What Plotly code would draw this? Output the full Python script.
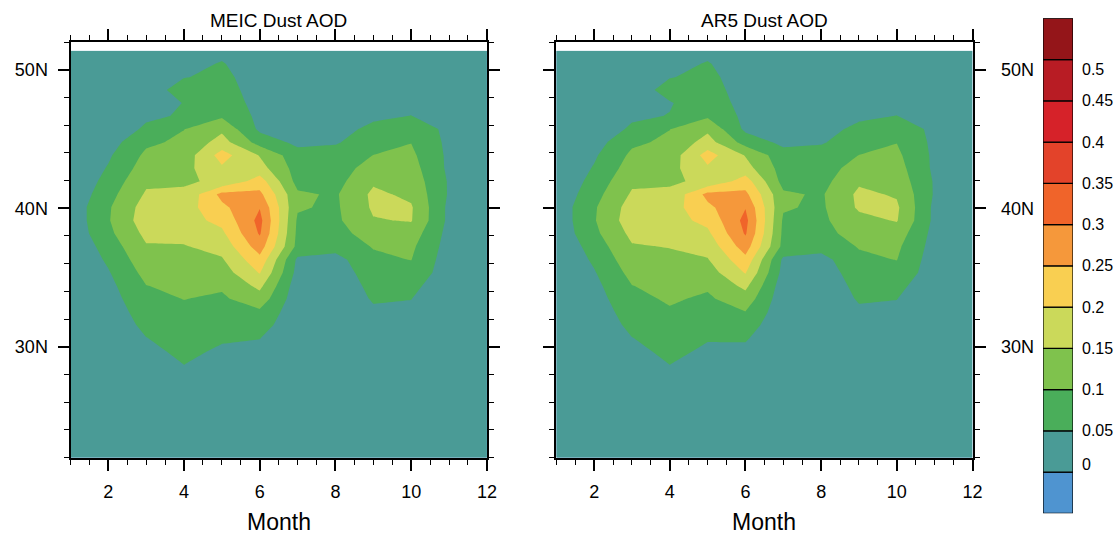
import plotly.graph_objects as go

# Grid: calendar month x latitude (deg N)
months = list(range(1, 13))
lats = [21.20, 24.97, 27.80, 28.74, 29.69, 30.63, 31.57, 32.51, 33.46, 34.40,
        35.34, 36.28, 37.23, 38.17, 39.11, 40.05, 41.00, 41.94, 42.88, 43.82,
        44.76, 45.71, 46.65, 47.59, 48.53, 49.48, 50.42, 51.36]

# MEIC dust AOD, one row per latitude, months Jan..Dec
meic_aod = [
    [0.003, 0.003, 0.006, 0.008, 0.008, 0.008, 0.005, 0.005, 0.006, 0.005, 0.004, 0.004],
    [0.003, 0.004, 0.010, 0.015, 0.012, 0.012, 0.006, 0.006, 0.008, 0.007, 0.005, 0.004],
    [0.003, 0.006, 0.020, 0.040, 0.025, 0.022, 0.007, 0.007, 0.012, 0.010, 0.006, 0.004],
    [0.003, 0.008, 0.028, 0.0505, 0.033, 0.030, 0.008, 0.008, 0.015, 0.013, 0.007, 0.004],
    [0.003, 0.010, 0.038, 0.061, 0.0434, 0.040, 0.009, 0.009, 0.020, 0.017, 0.008, 0.004],
    [0.003, 0.012, 0.049, 0.071, 0.0556, 0.0512, 0.010, 0.010, 0.025, 0.022, 0.008, 0.004],
    [0.003, 0.016, 0.062, 0.081, 0.068, 0.0717, 0.012, 0.011, 0.032, 0.030, 0.009, 0.004],
    [0.003, 0.021, 0.074, 0.091, 0.080, 0.0913, 0.016, 0.012, 0.042, 0.040, 0.010, 0.004],
    [0.003, 0.028, 0.087, 0.101, 0.0925, 0.129, 0.018, 0.012, 0.055, 0.051, 0.010, 0.004],
    [0.003, 0.036, 0.099, 0.112, 0.107, 0.162, 0.022, 0.012, 0.066, 0.066, 0.011, 0.004],
    [0.003, 0.046, 0.115, 0.123, 0.126, 0.203, 0.033, 0.020, 0.078, 0.083, 0.024, 0.004],
    [0.003, 0.058, 0.131, 0.134, 0.145, 0.235, 0.040, 0.032, 0.090, 0.101, 0.023, 0.004],
    [0.005, 0.072, 0.146, 0.147, 0.167, 0.275, 0.085, 0.068, 0.103, 0.110, 0.029, 0.004],
    [0.0135, 0.088, 0.162, 0.165, 0.190, 0.305, 0.089, 0.080, 0.125, 0.127, 0.033, 0.004],
    [0.0155, 0.096, 0.178, 0.181, 0.213, 0.315, 0.093, 0.090, 0.147, 0.153, 0.038, 0.004],
    [0.017, 0.094, 0.172, 0.178, 0.238, 0.298, 0.105, 0.092, 0.157, 0.155, 0.038, 0.004],
    [0.009, 0.082, 0.156, 0.157, 0.265, 0.2625, 0.108, 0.094, 0.160, 0.140, 0.045, 0.004],
    [0.003, 0.068, 0.141, 0.145, 0.157, 0.2235, 0.083, 0.083, 0.143, 0.130, 0.045, 0.004],
    [0.003, 0.054, 0.124, 0.134, 0.193, 0.170, 0.079, 0.075, 0.122, 0.120, 0.040, 0.004],
    [0.003, 0.043, 0.110, 0.122, 0.220, 0.147, 0.069, 0.075, 0.1005, 0.110, 0.040, 0.004],
    [0.003, 0.028, 0.0905, 0.110, 0.170, 0.080, 0.038, 0.044, 0.083, 0.099, 0.038, 0.004],
    [0.003, 0.020, 0.057, 0.099, 0.140, 0.040, 0.022, 0.030, 0.063, 0.075, 0.040, 0.004],
    [0.003, 0.016, 0.043, 0.054, 0.0935, 0.038, 0.018, 0.020, 0.040, 0.051, 0.020, 0.004],
    [0.003, 0.013, 0.034, 0.051, 0.075, 0.035, 0.016, 0.015, 0.030, 0.035, 0.015, 0.004],
    [0.003, 0.010, 0.026, 0.070, 0.066, 0.033, 0.015, 0.014, 0.022, 0.025, 0.012, 0.004],
    [0.003, 0.008, 0.018, 0.048, 0.060, 0.030, 0.014, 0.013, 0.017, 0.018, 0.010, 0.004],
    [0.003, 0.006, 0.012, 0.037, 0.053, 0.025, 0.013, 0.012, 0.013, 0.014, 0.008, 0.004],
    [0.003, 0.005, 0.008, 0.025, 0.040, 0.020, 0.012, 0.010, 0.010, 0.010, 0.007, 0.004],
]

# AR5 dust AOD, same layout
ar5_aod = [
    [0.003, 0.003, 0.006, 0.008, 0.008, 0.008, 0.005, 0.005, 0.006, 0.005, 0.004, 0.004],
    [0.003, 0.004, 0.010, 0.015, 0.012, 0.012, 0.006, 0.006, 0.008, 0.007, 0.005, 0.004],
    [0.003, 0.006, 0.020, 0.040, 0.025, 0.022, 0.007, 0.007, 0.012, 0.010, 0.006, 0.004],
    [0.003, 0.008, 0.028, 0.0505, 0.033, 0.030, 0.008, 0.008, 0.015, 0.013, 0.007, 0.004],
    [0.003, 0.010, 0.038, 0.061, 0.043, 0.040, 0.009, 0.009, 0.020, 0.017, 0.008, 0.004],
    [0.003, 0.012, 0.049, 0.071, 0.053, 0.055, 0.010, 0.010, 0.025, 0.022, 0.008, 0.004],
    [0.003, 0.016, 0.062, 0.083, 0.068, 0.075, 0.012, 0.011, 0.032, 0.030, 0.009, 0.004],
    [0.003, 0.021, 0.074, 0.095, 0.080, 0.099, 0.016, 0.012, 0.042, 0.040, 0.010, 0.004],
    [0.003, 0.028, 0.087, 0.106, 0.0925, 0.129, 0.018, 0.012, 0.055, 0.051, 0.010, 0.004],
    [0.003, 0.036, 0.099, 0.115, 0.107, 0.162, 0.022, 0.012, 0.066, 0.066, 0.011, 0.004],
    [0.003, 0.046, 0.115, 0.126, 0.126, 0.203, 0.033, 0.020, 0.078, 0.083, 0.024, 0.004],
    [0.003, 0.058, 0.131, 0.138, 0.147, 0.235, 0.040, 0.032, 0.090, 0.101, 0.023, 0.004],
    [0.005, 0.072, 0.146, 0.152, 0.167, 0.275, 0.085, 0.068, 0.103, 0.110, 0.029, 0.004],
    [0.0135, 0.088, 0.162, 0.165, 0.190, 0.305, 0.089, 0.080, 0.125, 0.127, 0.033, 0.004],
    [0.0155, 0.096, 0.178, 0.181, 0.213, 0.315, 0.093, 0.090, 0.135, 0.153, 0.038, 0.004],
    [0.017, 0.094, 0.172, 0.178, 0.238, 0.298, 0.105, 0.092, 0.157, 0.158, 0.038, 0.004],
    [0.009, 0.082, 0.156, 0.157, 0.265, 0.2625, 0.108, 0.094, 0.160, 0.145, 0.045, 0.004],
    [0.003, 0.068, 0.141, 0.145, 0.157, 0.2235, 0.083, 0.083, 0.143, 0.130, 0.045, 0.004],
    [0.003, 0.054, 0.124, 0.134, 0.193, 0.170, 0.079, 0.075, 0.122, 0.120, 0.040, 0.004],
    [0.003, 0.043, 0.110, 0.122, 0.220, 0.147, 0.069, 0.075, 0.1005, 0.110, 0.040, 0.004],
    [0.003, 0.028, 0.0905, 0.110, 0.170, 0.080, 0.038, 0.044, 0.083, 0.099, 0.038, 0.004],
    [0.003, 0.020, 0.057, 0.099, 0.140, 0.040, 0.022, 0.030, 0.063, 0.075, 0.040, 0.004],
    [0.003, 0.016, 0.043, 0.0515, 0.0935, 0.038, 0.018, 0.020, 0.040, 0.051, 0.020, 0.004],
    [0.003, 0.013, 0.034, 0.047, 0.075, 0.035, 0.016, 0.015, 0.030, 0.035, 0.015, 0.004],
    [0.003, 0.010, 0.026, 0.066, 0.066, 0.033, 0.015, 0.014, 0.022, 0.025, 0.012, 0.004],
    [0.003, 0.008, 0.018, 0.048, 0.060, 0.030, 0.014, 0.013, 0.017, 0.018, 0.010, 0.004],
    [0.003, 0.006, 0.012, 0.037, 0.053, 0.025, 0.013, 0.012, 0.013, 0.014, 0.008, 0.004],
    [0.003, 0.005, 0.008, 0.025, 0.040, 0.020, 0.012, 0.010, 0.010, 0.010, 0.007, 0.004],
]

# Contour levels and fill colours (one colour below the first level,
# one per interval, one above the last level)
levels = [0, 0.05, 0.1, 0.15, 0.2, 0.25, 0.3, 0.35, 0.4, 0.45, 0.5]
level_labels = ["0", "0.05", "0.1", "0.15", "0.2", "0.25", "0.3", "0.35",
                "0.4", "0.45", "0.5"]
fill_colors = ["#4f94d0", "#4a9b96", "#4aae5a", "#7fc24d", "#cbd95a", "#f9cf51",
               "#f5983b", "#f0642a", "#e3432a", "#d62229", "#b81c24", "#941519"]

panel_titles = ["MEIC Dust AOD", "AR5 Dust AOD"]

W, H = 1115, 535
FONT = "Liberation Sans, Arial, Helvetica, sans-serif"

n = len(fill_colors)
colorscale = [[i / (n - 1), c] for i, c in enumerate(fill_colors)]
step = levels[1] - levels[0]


def px_x(p):
    return p / W


def px_y(p):
    return 1 - p / H


fig = go.Figure()

for k, z in enumerate([meic_aod, ar5_aod]):
    sfx = "" if k == 0 else str(k + 1)
    fig.add_trace(go.Contour(
        x=months, y=lats, z=z,
        xaxis="x" + sfx, yaxis="y" + sfx,
        colorscale=colorscale,
        autocontour=False,
        contours=dict(start=levels[0], end=levels[-1], size=step,
                      coloring="fill", showlines=False),
        line=dict(width=0, smoothing=0),
        showscale=False,
        hoverinfo="skip",
    ))

# Label bar: one stacked segment per fill colour
fig.add_trace(go.Bar(
    x=[0.5] * n, y=[1] * n, base=list(range(n)), width=1,
    marker=dict(color=fill_colors, line=dict(color="black", width=1.2)),
    xaxis="x3", yaxis="y3", hoverinfo="skip", showlegend=False,
    cliponaxis=False,
))

panel_x = [(70.5, 486.9), (556.3, 972.5)]
frame_top, frame_bottom = 42.0, 457.5

common_x = dict(
    range=[1, 12], tick0=0, dtick=2, ticks="outside", ticklen=11, tickwidth=2,
    tickcolor="black", showline=True, linewidth=2, linecolor="black",
    mirror="ticks", showgrid=False, zeroline=False, automargin=False,
    tickfont=dict(family=FONT, size=18, color="black"),
    minor=dict(tick0=0, dtick=0.5, ticks="outside", ticklen=5, tickwidth=1,
               tickcolor="black", showgrid=False),
    ticklabelstandoff=6,
)
common_y = dict(
    range=[22, 52], tick0=0, dtick=10, ticksuffix="N", ticks="outside",
    ticklen=11, tickwidth=2, tickcolor="black", showline=True, linewidth=2,
    linecolor="black", mirror="ticks", showgrid=False, zeroline=False,
    automargin=False,
    tickfont=dict(family=FONT, size=18, color="black"),
    minor=dict(tick0=0, dtick=2, ticks="outside", ticklen=5, tickwidth=1,
               tickcolor="black", showgrid=False),
)

ydom = [px_y(frame_bottom), px_y(frame_top)]
layout = dict(
    width=W, height=H,
    margin=dict(l=0, r=0, t=0, b=0, autoexpand=False),
    paper_bgcolor="white", plot_bgcolor="white",
    showlegend=False,
    barmode="overlay",
    font=dict(family=FONT, color="black"),
    xaxis=dict(domain=[px_x(panel_x[0][0]), px_x(panel_x[0][1])], anchor="y",
               **common_x),
    yaxis=dict(domain=ydom, anchor="x", side="left", ticklabelstandoff=6,
               **common_y),
    xaxis2=dict(domain=[px_x(panel_x[1][0]), px_x(panel_x[1][1])], anchor="y2",
                **common_x),
    yaxis2=dict(domain=ydom, anchor="x2", side="right", ticklabelstandoff=12,
                **common_y),
    xaxis3=dict(domain=[px_x(1043), px_x(1073)], anchor="y3", range=[0, 1],
                visible=False, fixedrange=True, automargin=False),
    yaxis3=dict(domain=[px_y(513.3), px_y(18.3)], anchor="x3", range=[0, n],
                side="right", showgrid=False, zeroline=False, showline=False,
                automargin=False, ticks="", tickmode="array",
                tickvals=[i + 1 + (0.19 if i == 0 else (-0.24 if i == len(levels) - 1 else 0))
                          for i in range(len(levels))],
                ticktext=level_labels,
                tickfont=dict(family=FONT, size=16, color="black"),
                ticklabelstandoff=8),
)

annotations = []
for (x0, x1), title in zip(panel_x, panel_titles):
    xc = px_x((x0 + x1) / 2)
    annotations.append(dict(text=title, x=xc, y=px_y(20), xref="paper", yref="paper",
                            xanchor="center", yanchor="middle", showarrow=False,
                            font=dict(family=FONT, size=19, color="black")))
    annotations.append(dict(text="Month", x=xc, y=px_y(522), xref="paper", yref="paper",
                            xanchor="center", yanchor="middle", showarrow=False,
                            font=dict(family=FONT, size=23, color="black")))
layout["annotations"] = annotations

fig.update_layout(**layout)
fig.write_html("out.html")
